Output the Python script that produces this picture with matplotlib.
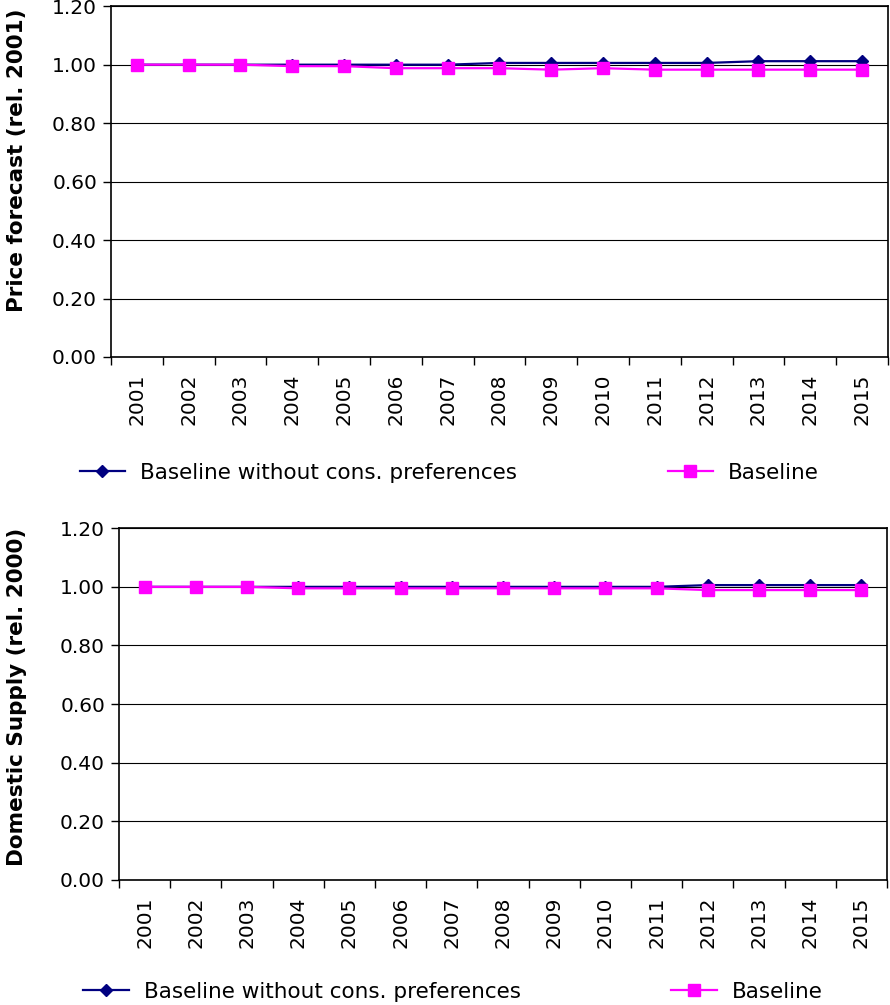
import matplotlib as mpl
import matplotlib.pyplot as plt
import numpy as np

plt.close('all')

years = ['2001', '2002', '2003', '2004', '2005', '2006', '2007', '2008',
         '2009', '2010', '2011', '2012', '2013', '2014', '2015']

# Price forecast (rel. 2001)
precio_sin = [1.000, 1.000, 1.000, 1.000, 1.000, 1.000, 1.000, 1.006,
              1.006, 1.006, 1.006, 1.006, 1.012, 1.012, 1.012]
precio_base = [1.000, 1.000, 1.000, 0.995, 0.995, 0.988, 0.988, 0.988,
               0.983, 0.988, 0.983, 0.983, 0.983, 0.983, 0.983]

# Domestic supply (rel. 2000)
oferta_sin = [1.000, 1.000, 1.000, 1.000, 1.000, 1.000, 1.000, 1.000,
              1.000, 1.000, 1.000, 1.006, 1.006, 1.006, 1.006]
oferta_base = [1.000, 1.000, 1.000, 0.995, 0.995, 0.995, 0.995, 0.995,
               0.995, 0.995, 0.995, 0.989, 0.989, 0.989, 0.989]

yticks = [0.0, 0.2, 0.4, 0.6, 0.8, 1.0, 1.2]

params = {'font.family': 'DejaVu Sans', 'font.size': 15,
          'xtick.labelsize': 14.5, 'ytick.labelsize': 14.5}
mpl.rcParams.update(params)

fig = plt.figure(figsize=[8.9, 10.05], dpi=100)


def panel(rect, sin, base, ylab, labx, laby, legx, legy):
    ax = fig.add_axes(rect)
    x = np.arange(len(years))
    ax.plot(x, sin, '-', color='#000080', marker='D', markersize=6, linewidth=1.6,
            label='Baseline without cons. preferences', zorder=3)
    ax.plot(x, base, '-', color='#FF00FF', marker='s', markersize=8.5, linewidth=1.6,
            label='Baseline', zorder=4)
    ax.set_xlim(-0.5, len(years) - 0.5)
    ax.set_ylim(0, 1.2)
    ax.set_yticks(yticks)
    ax.set_yticklabels(['%.2f' % v for v in yticks])
    ax.set_xticks(x)
    ax.set_xticklabels(years, rotation=90)
    ax.set_xticks(np.arange(len(years) + 1) - 0.5, minor=True)
    ax.tick_params(axis='x', which='major', length=0, pad=12)
    ax.tick_params(axis='x', which='minor', length=6, width=1, direction='out')
    ax.tick_params(axis='y', length=6, width=1, direction='out', pad=4)
    ax.yaxis.grid(True, color='black', linewidth=0.8)
    ax.set_axisbelow(True)
    for s in ax.spines.values():
        s.set_linewidth(1.2)
    ax.set_ylabel(ylab, fontweight='bold', fontsize=15.5)
    ax.yaxis.set_label_coords(labx, laby)
    ax.legend(loc='center', bbox_to_anchor=(legx, legy), bbox_transform=fig.transFigure,
              ncol=2, frameon=False, fontsize=15.5, columnspacing=7.0,
              handlelength=2.1, handletextpad=0.7)
    return ax


panel((0.1247, 0.6448, 0.873, 0.349), precio_sin, precio_base,
      'Price forecast (rel. 2001)', -0.108, 0.561, 0.505, 1 - 473 / 1005)
panel((0.1337, 0.1244, 0.863, 0.350), oferta_sin, oferta_base,
      'Domestic Supply (rel. 2000)', -0.120, 0.52, 0.509, 1 - 992 / 1005)

plt.savefig('out.png', dpi=100)
